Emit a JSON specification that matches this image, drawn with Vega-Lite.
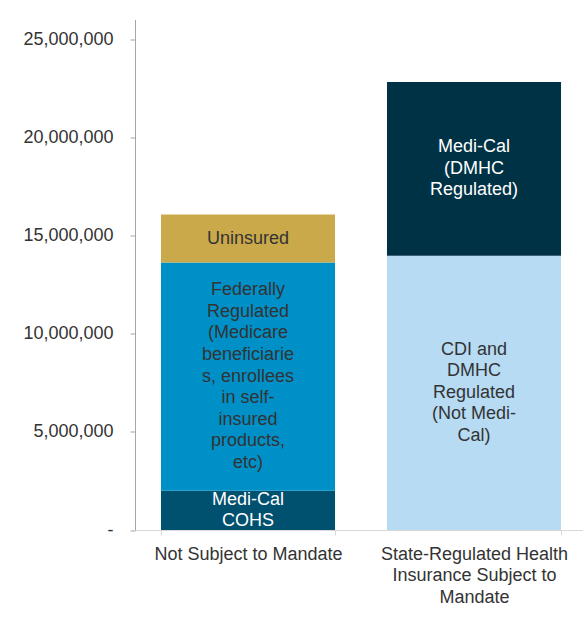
{
  "$schema": "https://vega.github.io/schema/vega-lite/v6.json",
  "autosize": "none",
  "padding": {"left": 135, "top": 19.5, "right": 0, "bottom": 92},
  "width": 452,
  "height": 510.5,
  "background": "white",
  "config": {"view": {"stroke": null}, "font": "Liberation Sans"},
  "data": {
    "values": [
      {"category": "Not Subject to Mandate", "segment": "Medi-Cal COHS", "order": 1, "value": 2000000, "label": "Medi-Cal|COHS"},
      {"category": "Not Subject to Mandate", "segment": "Federally Regulated", "order": 2, "value": 11620000, "label": "Federally|Regulated|(Medicare|beneficiarie|s, enrollees|in self-|insured|products,|etc)"},
      {"category": "Not Subject to Mandate", "segment": "Uninsured", "order": 3, "value": 2450000, "label": "Uninsured"},
      {"category": "State-Regulated Health|Insurance Subject to|Mandate", "segment": "CDI and DMHC Regulated", "order": 1, "value": 13970000, "label": "CDI and|DMHC|Regulated|(Not Medi-|Cal)"},
      {"category": "State-Regulated Health|Insurance Subject to|Mandate", "segment": "Medi-Cal DMHC", "order": 2, "value": 8850000, "label": "Medi-Cal|(DMHC|Regulated)"}
    ]
  },
  "transform": [
    {"stack": "value", "groupby": ["category"], "sort": [{"field": "order", "order": "ascending"}], "as": ["y0", "y1"]},
    {"calculate": "split(datum.label, '|')", "as": "lines"},
    {"calculate": "(datum.y0 + datum.y1) / 2 + (length(datum.lines) - 1) / 2 * 1100000", "as": "mid"}
  ],
  "encoding": {
    "x": {
      "field": "category", "type": "nominal", "sort": null,
      "scale": {"paddingInner": 0.23, "paddingOuter": 0.115},
      "axis": {
        "title": null, "labelAngle": 0, "tickBand": "extent",
        "labelExpr": "datum.value ? split(datum.value, '|') : ''",
        "labelFont": "Liberation Sans", "labelFontSize": 18, "labelColor": "#333333",
        "labelLineHeight": 21.6, "labelPadding": 10, "labelBaseline": "top",
        "domainColor": "#D9D9D9", "tickColor": "#D9D9D9", "tickSize": 5, "labelLimit": 0
      }
    }
  },
  "layer": [
    {
      "mark": {"type": "bar"},
      "encoding": {
        "y": {
          "field": "y0", "type": "quantitative",
          "scale": {"domain": [0, 26000000], "nice": false},
          "axis": {
            "title": null, "grid": false, "values": [0, 5000000, 10000000, 15000000, 20000000, 25000000],
            "labelExpr": "datum.value == 0 ? '-' : format(datum.value, ',')",
            "labelFont": "Liberation Sans", "labelFontSize": 18, "labelColor": "#333333",
            "labelPadding": 17, "tickSize": 5, "domainColor": "#A6A6A6", "tickColor": "#A6A6A6",
            "encode": {"labels": {"update": {"dx": {"signal": "datum.value == 0 ? -10 : 0"}}}}
          }
        },
        "y2": {"field": "y1"},
        "color": {
          "field": "segment", "type": "nominal", "legend": null,
          "scale": {
            "domain": ["Medi-Cal COHS", "Federally Regulated", "Uninsured", "CDI and DMHC Regulated", "Medi-Cal DMHC"],
            "range": ["#00506F", "#0090C8", "#CAA94B", "#B6DBF3", "#003246"]
          }
        }
      }
    },
    {
      "mark": {"type": "text", "font": "Liberation Sans", "fontSize": 18, "lineHeight": 21.6, "baseline": "middle", "align": "center"},
      "encoding": {
        "y": {"field": "mid", "type": "quantitative"},
        "text": {"field": "lines"},
        "color": {
          "condition": {"test": "datum.segment == 'Medi-Cal COHS' || datum.segment == 'Medi-Cal DMHC'", "value": "#FFFFFF"},
          "value": "#333333"
        }
      }
    }
  ]
}
